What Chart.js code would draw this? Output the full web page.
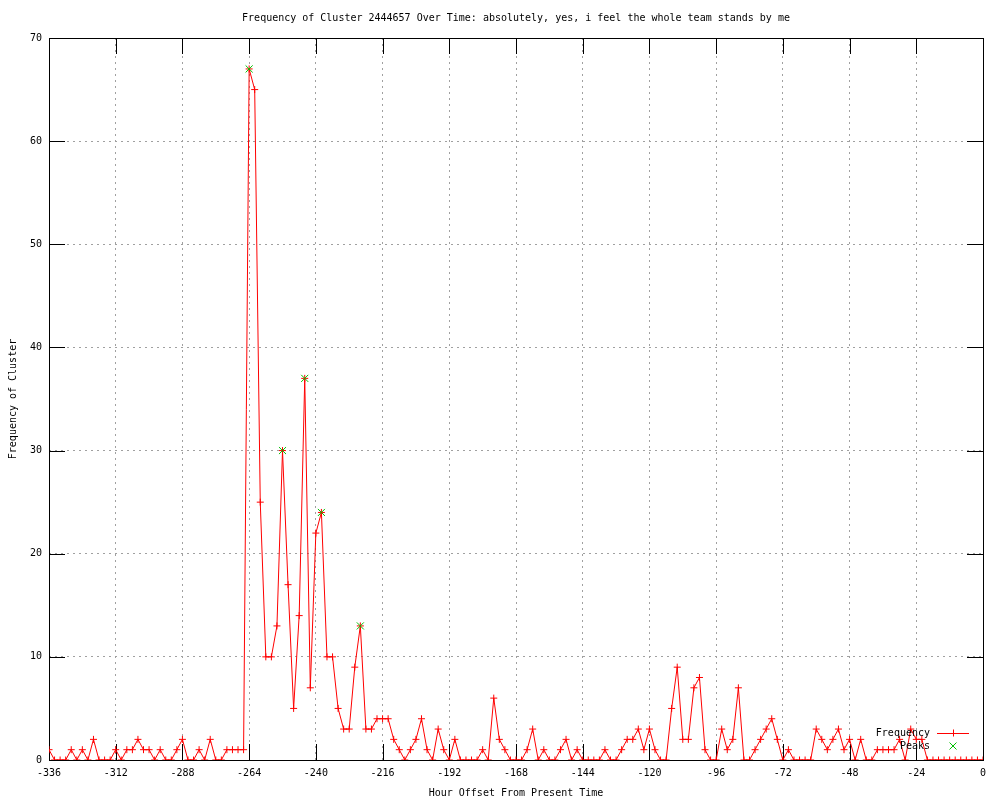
<!DOCTYPE html>
<html>
<head>
<meta charset="utf-8">
<script src="https://cdn.jsdelivr.net/npm/chart.js@4.4.1/dist/chart.umd.min.js"></script>
<style>
    body { margin: 0; background: #fff; }
    #wrap { width: 1000px; height: 800px; }
</style>
</head>
<body>
<div id="wrap"><canvas id="freqChart" width="1000" height="800"></canvas></div>
<script>
// Cluster counts, one sample every 2 hours from -336 to 0
const startHour = -336;
const hourStep = 2;
const freqCounts = [
    1, 0, 0, 0, 1, 0, 1, 0, 2, 0,
    0, 0, 1, 0, 1, 1, 2, 1, 1, 0,
    1, 0, 0, 1, 2, 0, 0, 1, 0, 2,
    0, 0, 1, 1, 1, 1, 67, 65, 25, 10,
    10, 13, 30, 17, 5, 14, 37, 7, 22, 24,
    10, 10, 5, 3, 3, 9, 13, 3, 3, 4,
    4, 4, 2, 1, 0, 1, 2, 4, 1, 0,
    3, 1, 0, 2, 0, 0, 0, 0, 1, 0,
    6, 2, 1, 0, 0, 0, 1, 3, 0, 1,
    0, 0, 1, 2, 0, 1, 0, 0, 0, 0,
    1, 0, 0, 1, 2, 2, 3, 1, 3, 1,
    0, 0, 5, 9, 2, 2, 7, 8, 1, 0,
    0, 3, 1, 2, 7, 0, 0, 1, 2, 3,
    4, 2, 0, 1, 0, 0, 0, 0, 3, 2,
    1, 2, 3, 1, 2, 0, 2, 0, 0, 1,
    1, 1, 1, 2, 0, 3, 2, 2, 0, 0,
    0, 0, 0, 0, 0, 0, 0, 0, 0
];
const peakHours = [-264, -252, -244, -238, -224];
const peakCounts = [67, 30, 37, 24, 13];

const xTickValues = [-336, -312, -288, -264, -240, -216, -192, -168, -144, -120, -96, -72, -48, -24, 0];
const yTickValues = [0, 10, 20, 30, 40, 50, 60, 70];

const FONT = 'DejaVu Sans Mono';
const TICK_LEN = 16;

const freqPoints = freqCounts.map((v, i) => ({ x: startHour + i * hourStep, y: v }));
const peakPoints = peakHours.map((h, i) => ({ x: h, y: peakCounts[i] }));

// border, inward tics (mirrored) and the gnuplot style key
const gnuplotFrame = {
    id: 'gnuplotFrame',
    beforeDatasetsDraw(chart) {
        const { ctx, chartArea: a, scales: { x, y } } = chart;
        ctx.save();
        ctx.strokeStyle = '#000';
        ctx.lineWidth = 1;
        ctx.beginPath();
        xTickValues.forEach(v => {
            const px = Math.round(x.getPixelForValue(v)) + 0.5;
            ctx.moveTo(px, a.bottom);
            ctx.lineTo(px, a.bottom - TICK_LEN);
            ctx.moveTo(px, a.top);
            ctx.lineTo(px, a.top + TICK_LEN);
        });
        yTickValues.forEach(v => {
            const py = Math.round(y.getPixelForValue(v)) + 0.5;
            ctx.moveTo(a.left, py);
            ctx.lineTo(a.left + TICK_LEN, py);
            ctx.moveTo(a.right, py);
            ctx.lineTo(a.right - TICK_LEN, py);
        });
        ctx.stroke();
        ctx.strokeRect(Math.round(a.left) + 0.5, Math.round(a.top) + 0.5,
            Math.round(a.right - a.left), Math.round(a.bottom - a.top));
        ctx.restore();
    },
    afterDatasetsDraw(chart) {
        const { ctx, chartArea: a } = chart;
        const textRight = a.right - 53;
        const sampleL = a.right - 46, sampleR = a.right - 14;
        const sampleMid = (sampleL + sampleR) / 2;
        const rows = [a.bottom - 27, a.bottom - 14];
        ctx.save();
        ctx.font = '10px "' + FONT + '"';
        ctx.fillStyle = '#000';
        ctx.textAlign = 'right';
        ctx.textBaseline = 'middle';
        chart.data.datasets.slice().reverse().forEach((ds, k) => {
            const yy = rows[k];
            ctx.fillText(ds.label, textRight, yy);
            ctx.strokeStyle = ds.borderColor;
            ctx.lineWidth = 1;
            ctx.beginPath();
            if (ds.showLine) {
                ctx.moveTo(sampleL, yy + 0.5);
                ctx.lineTo(sampleR, yy + 0.5);
                ctx.moveTo(sampleMid - 3.5, yy + 0.5);
                ctx.lineTo(sampleMid + 3.5, yy + 0.5);
                ctx.moveTo(sampleMid + 0.5, yy - 3.5);
                ctx.lineTo(sampleMid + 0.5, yy + 3.5);
            } else {
                ctx.moveTo(sampleMid - 3.5, yy - 3.5);
                ctx.lineTo(sampleMid + 3.5, yy + 3.5);
                ctx.moveTo(sampleMid - 3.5, yy + 3.5);
                ctx.lineTo(sampleMid + 3.5, yy - 3.5);
            }
            ctx.stroke();
        });
        ctx.restore();
    }
};

const ctx = document.getElementById('freqChart').getContext('2d');
new Chart(ctx, {
    type: 'line',
    data: {
        datasets: [
            {
                label: 'Peaks',
                data: peakPoints,
                showLine: false,
                borderColor: '#00c000',
                backgroundColor: '#00c000',
                pointStyle: 'crossRot',
                pointRadius: 5,
                pointBorderWidth: 1
            },
            {
                label: 'Frequency',
                data: freqPoints,
                showLine: true,
                borderColor: '#ff0000',
                backgroundColor: '#ff0000',
                borderWidth: 1,
                tension: 0,
                pointStyle: 'cross',
                pointRadius: 3.5,
                pointBorderWidth: 1
            }
        ]
    },
    options: {
        responsive: false,
        animation: false,
        devicePixelRatio: 1,
        layout: { padding: { left: 0, right: 17, top: 0, bottom: 0 } },
        plugins: {
            legend: { display: false },
            tooltip: { enabled: false },
            title: {
                display: true,
                fullSize: false,
                text: 'Frequency of Cluster 2444657 Over Time: absolutely, yes, i feel the whole team stands by me',
                color: '#000',
                font: { family: FONT, size: 10, weight: 'normal' },
                padding: { top: 12, bottom: 14 }
            }
        },
        scales: {
            x: {
                type: 'linear',
                min: -336,
                max: 0,
                afterFit: (scale) => { scale.height = 40; },
                afterBuildTicks: (scale) => { scale.ticks = xTickValues.map(v => ({ value: v })); },
                ticks: {
                    color: '#000',
                    font: { family: FONT, size: 10 },
                    padding: 7,
                    maxRotation: 0,
                    autoSkip: false,
                    callback: (v) => String(v)
                },
                grid: { color: '#a0a0a0', drawTicks: false, lineWidth: 1 },
                border: { display: false, dash: [2, 4] },
                title: {
                    display: true,
                    text: 'Hour Offset From Present Time',
                    color: '#000',
                    font: { family: FONT, size: 10 },
                    padding: { top: 0, bottom: 1 }
                }
            },
            y: {
                min: 0,
                max: 70,
                afterFit: (scale) => { scale.width = 49; },
                afterBuildTicks: (scale) => { scale.ticks = yTickValues.map(v => ({ value: v })); },
                ticks: {
                    color: '#000',
                    font: { family: FONT, size: 10 },
                    padding: 7,
                    callback: (v) => String(v)
                },
                grid: { color: '#a0a0a0', drawTicks: false, lineWidth: 1 },
                border: { display: false, dash: [2, 4] },
                title: {
                    display: true,
                    text: 'Frequency of Cluster',
                    color: '#000',
                    font: { family: FONT, size: 10 },
                    padding: { top: 7, bottom: 0 }
                }
            }
        }
    },
    plugins: [gnuplotFrame]
});
</script>
</body>
</html>
